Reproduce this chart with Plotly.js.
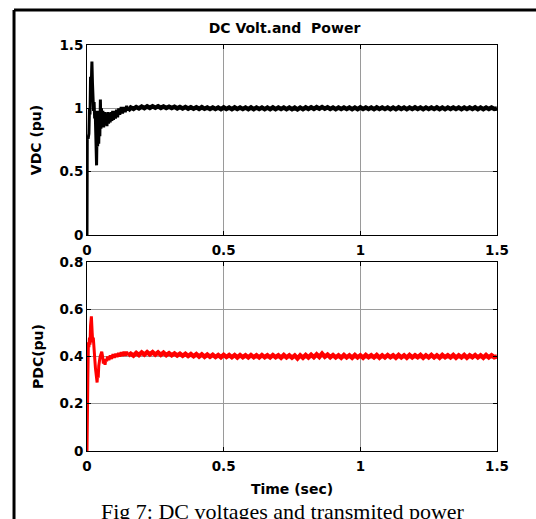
<!DOCTYPE html>
<html>
<head>
<meta charset="utf-8">
<script src="https://cdn.plot.ly/plotly-3.0.1.min.js"></script>
<style>html,body{margin:0;padding:0;background:#fff;}#chart{width:536px;height:519px;}</style>
</head>
<body>
<div id="chart"></div>
<script>
// ---- Data ----
var xTickVals = [0, 0.5, 1, 1.5];
var xTickText = ["0", "0.5", "1", "1.5"];
var vdcTickVals = [0, 0.5, 1, 1.5];
var vdcTickText = ["0", "0.5", "1", "1.5"];
var pdcTickVals = [0, 0.2, 0.4, 0.6, 0.8];
var pdcTickText = ["0", "0.2", "0.4", "0.6", "0.8"];

// transient part of VDC
var vdcTimeStart = [0,0.001,0.004,0.007,0.009,0.011,0.013,0.015,0.017,0.018,0.020,0.022,0.024,0.026,0.028,0.030,0.032,0.034,0.035,0.037,0.039,0.041,0.043,0.045,0.047,0.049,0.051,0.053,0.055,0.058,0.061,0.064,0.067,0.070,0.073,0.076,0.079,0.082,0.085,0.088,0.091,0.094,0.097,0.100,0.104,0.108,0.112,0.116,0.120,0.125,0.130,0.135,0.140,0.145,0.150];
var vdcStart = [0,0.78,0.76,0.80,1.00,0.95,1.25,1.10,1.30,1.37,1.20,1.08,0.98,1.05,0.92,0.98,0.80,0.58,0.55,0.85,0.70,0.98,0.72,0.95,0.78,1.07,0.84,1.00,0.86,0.98,0.85,0.97,0.87,0.96,0.86,0.97,0.88,0.96,0.89,0.97,0.90,0.98,0.91,0.98,0.92,0.99,0.93,1.00,0.95,1.01,0.96,1.01,0.97,1.02,0.98];

// transient part of PDC
var pdcTimeStart = [0,0.001,0.003,0.005,0.007,0.009,0.011,0.013,0.016,0.019,0.021,0.023,0.025,0.027,0.029,0.031,0.033,0.035,0.037,0.039,0.041,0.043,0.045,0.048,0.051,0.054,0.057,0.060,0.063,0.066,0.069,0.072,0.075,0.080,0.085,0.090,0.095,0.100,0.105,0.110,0.115,0.120,0.125,0.130,0.135,0.140,0.145,0.150];
var pdcStart = [0,0.22,0.30,0.46,0.44,0.48,0.45,0.53,0.57,0.50,0.46,0.48,0.42,0.44,0.38,0.35,0.32,0.30,0.29,0.33,0.31,0.36,0.38,0.40,0.41,0.42,0.40,0.37,0.39,0.365,0.39,0.38,0.40,0.385,0.405,0.39,0.41,0.395,0.412,0.398,0.415,0.40,0.418,0.402,0.42,0.403,0.42,0.404];

// steady-state sample times (shared by both signals)
var timeSteady = [0.16,0.17,0.18,0.19,0.20,0.21,0.22,0.23,0.24,0.25,
0.26,0.27,0.28,0.29,0.30,0.31,0.32,0.33,0.34,0.35,
0.36,0.37,0.38,0.39,0.40,0.41,0.42,0.43,0.44,0.45,
0.46,0.47,0.48,0.49,0.50,0.51,0.52,0.53,0.54,0.55,
0.56,0.57,0.58,0.59,0.60,0.61,0.62,0.63,0.64,0.65,
0.66,0.67,0.68,0.69,0.70,0.71,0.72,0.73,0.74,0.75,
0.76,0.77,0.78,0.79,0.80,0.81,0.82,0.83,0.84,0.85,
0.86,0.87,0.88,0.89,0.90,0.91,0.92,0.93,0.94,0.95,
0.96,0.97,0.98,0.99,1.00,1.01,1.02,1.03,1.04,1.05,
1.06,1.07,1.08,1.09,1.10,1.11,1.12,1.13,1.14,1.15,
1.16,1.17,1.18,1.19,1.20,1.21,1.22,1.23,1.24,1.25,
1.26,1.27,1.28,1.29,1.30,1.31,1.32,1.33,1.34,1.35,
1.36,1.37,1.38,1.39,1.40,1.41,1.42,1.43,1.44,1.45,
1.46,1.47,1.48,1.49,1.50];

var vdcSteady = [1.006,0.996,1.010,0.999,1.013,1.002,1.015,1.004,1.016,1.005,
1.016,1.004,1.015,1.003,1.013,1.002,1.012,1.000,1.011,0.999,
1.010,0.998,1.009,0.997,1.008,0.996,1.009,0.997,1.007,0.995,
1.007,0.995,1.006,0.994,1.007,0.995,1.006,0.994,1.007,0.995,
1.006,0.995,1.006,0.994,1.007,0.994,1.006,0.995,1.006,0.994,
1.006,0.994,1.007,0.994,1.006,0.995,1.006,0.994,1.006,0.993,
1.005,0.992,1.006,0.994,1.007,0.995,1.008,0.996,1.009,0.997,
1.010,0.997,1.008,0.995,1.006,0.994,1.006,0.995,1.006,0.995,
1.006,0.994,1.006,0.994,1.007,0.995,1.006,0.995,1.006,0.994,
1.007,0.995,1.006,0.995,1.006,0.994,1.006,0.994,1.007,0.995,
1.006,0.994,1.006,0.995,1.007,0.995,1.006,0.994,1.006,0.995,
1.006,0.995,1.007,0.994,1.006,0.994,1.006,0.995,1.007,0.995,
1.006,0.994,1.006,0.995,1.006,0.995,1.007,0.994,1.006,0.994,
1.006,0.995,1.007,0.995,1.000];

var pdcSteady = [0.412,0.404,0.415,0.406,0.417,0.408,0.418,0.409,0.418,0.408,
0.417,0.407,0.416,0.406,0.414,0.405,0.413,0.404,0.412,0.403,
0.411,0.402,0.410,0.401,0.410,0.400,0.409,0.399,0.408,0.399,
0.407,0.398,0.406,0.397,0.407,0.398,0.406,0.397,0.406,0.396,
0.406,0.397,0.405,0.396,0.406,0.397,0.405,0.396,0.406,0.397,
0.405,0.396,0.406,0.397,0.405,0.395,0.406,0.396,0.405,0.395,
0.404,0.392,0.405,0.395,0.406,0.396,0.407,0.397,0.409,0.398,
0.412,0.399,0.408,0.397,0.406,0.396,0.405,0.395,0.406,0.396,
0.405,0.395,0.406,0.396,0.405,0.395,0.406,0.397,0.405,0.396,
0.406,0.395,0.405,0.396,0.406,0.397,0.405,0.395,0.406,0.396,
0.405,0.395,0.406,0.396,0.405,0.397,0.406,0.395,0.405,0.396,
0.406,0.396,0.405,0.395,0.406,0.397,0.405,0.396,0.406,0.395,
0.405,0.396,0.406,0.395,0.405,0.397,0.406,0.396,0.405,0.395,
0.406,0.396,0.405,0.397,0.400];

var chartTitle = "DC Volt.and \u00a0Power";
var caption = "Fig 7: DC voltages and transmited power";

// ---- Build figure ----
var tickFont = {family: "DejaVu Sans", size: 13.5, color: "#000", weight: "bold"};
var titleFont = {family: "DejaVu Sans", size: 14, color: "#000", weight: "bold"};

function axisBase() {
  return {
    ticks: "inside", ticklen: 4, tickwidth: 1, tickcolor: "#000",
    showline: true, linecolor: "#000", linewidth: 1, mirror: "ticks",
    showgrid: true, gridcolor: "#9a9a9a", gridwidth: 1,
    zeroline: false, tickfont: tickFont, fixedrange: true
  };
}

var xBottom = Object.assign(axisBase(), {
  domain: [0, 1], anchor: "y", range: [0, 1.5],
  tickmode: "array", tickvals: xTickVals, ticktext: xTickText,
  ticklabelstandoff: 3,
  title: {text: "Time (sec)", font: titleFont, standoff: 10}
});
var xTop = Object.assign(axisBase(), {
  domain: [0, 1], anchor: "y2", range: [0, 1.5],
  tickmode: "array", tickvals: xTickVals, ticktext: xTickText,
  ticklabelstandoff: 3
});
var yBottom = Object.assign(axisBase(), {
  domain: [0, 0.4655], anchor: "x", range: [0, 0.8],
  tickmode: "array", tickvals: pdcTickVals, ticktext: pdcTickText,
  title: {text: "PDC(pu)", font: titleFont, standoff: 12}
});
var yTop = Object.assign(axisBase(), {
  domain: [0.532, 1], anchor: "x2", range: [0, 1.5],
  tickmode: "array", tickvals: vdcTickVals, ticktext: vdcTickText,
  title: {text: "VDC (pu)", font: titleFont, standoff: 14}
});

var vdcLastT = vdcTimeStart[vdcTimeStart.length - 1];
var vdcLastV = vdcStart[vdcStart.length - 1];
var pdcLastT = pdcTimeStart[pdcTimeStart.length - 1];
var pdcLastV = pdcStart[pdcStart.length - 1];

var traces = [
  {x: vdcTimeStart, y: vdcStart,
   xaxis: "x2", yaxis: "y2", type: "scatter", mode: "lines",
   line: {color: "#000", width: 3}, hoverinfo: "skip"},
  {x: [vdcLastT].concat(timeSteady), y: [vdcLastV].concat(vdcSteady),
   xaxis: "x2", yaxis: "y2", type: "scatter", mode: "lines",
   line: {color: "#000", width: 4.5}, hoverinfo: "skip"},
  {x: pdcTimeStart, y: pdcStart,
   xaxis: "x", yaxis: "y", type: "scatter", mode: "lines",
   line: {color: "#ff0000", width: 3}, hoverinfo: "skip"},
  {x: [pdcLastT].concat(timeSteady), y: [pdcLastV].concat(pdcSteady),
   xaxis: "x", yaxis: "y", type: "scatter", mode: "lines",
   line: {color: "#ff0000", width: 4.5}, hoverinfo: "skip"}
];

var layout = {
  width: 536, height: 519,
  margin: {l: 87, r: 39, t: 45, b: 68, pad: 0},
  paper_bgcolor: "#fff", plot_bgcolor: "#fff",
  showlegend: false,
  title: {text: chartTitle, font: titleFont, xref: "paper", x: 0.4817, xanchor: "center",
          yref: "container", y: 0.946, yanchor: "middle"},
  xaxis: xBottom, xaxis2: xTop, yaxis: yBottom, yaxis2: yTop,
  shapes: [
    {type: "line", xref: "paper", yref: "paper", x0: -0.178, x1: -0.178, y0: -0.3, y1: 1.0862,
     line: {color: "#000", width: 3}},
    {type: "line", xref: "paper", yref: "paper", x0: -0.178, x1: 1.2, y0: 1.0862, y1: 1.0862,
     line: {color: "#000", width: 3}}
  ],
  annotations: [
    {text: caption, xref: "paper", yref: "paper", x: 0.479, y: -0.113, xanchor: "center", yanchor: "top",
     showarrow: false, font: {family: "Liberation Serif", size: 22, color: "#000"}}
  ]
};

Plotly.newPlot("chart", traces, layout, {staticPlot: true, displayModeBar: false});
</script>
</body>
</html>
